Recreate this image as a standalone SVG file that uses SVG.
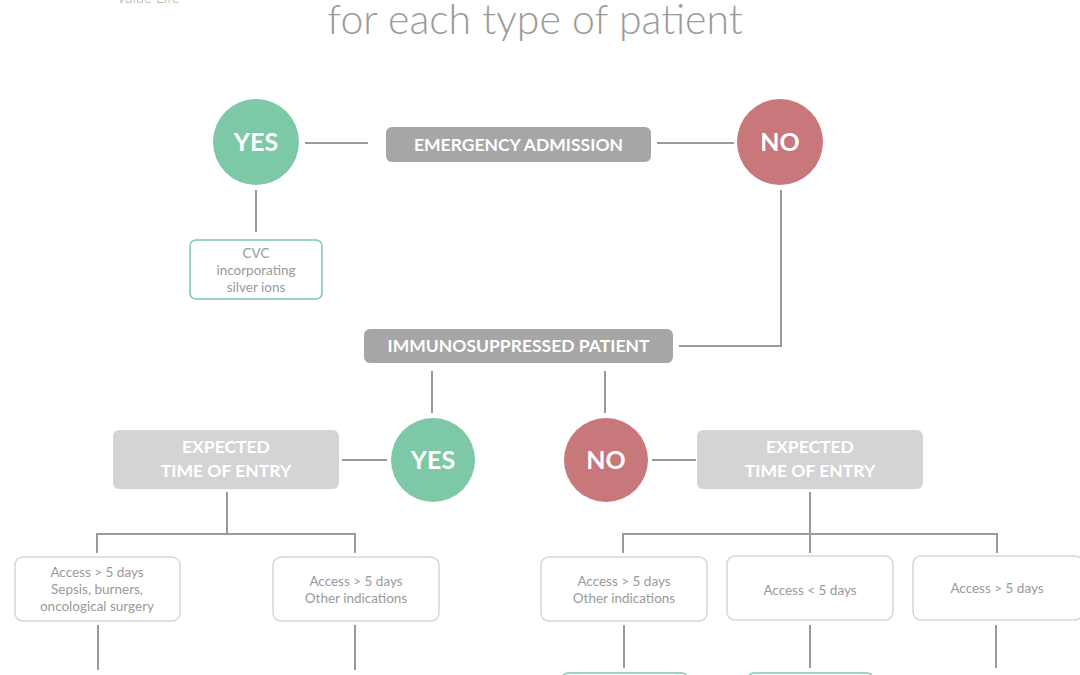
<svg xmlns="http://www.w3.org/2000/svg" width="1080" height="675" viewBox="0 0 1080 675">
<style>
.bg{fill:#ffffff}
.ln{stroke:#9a9a9a;stroke-width:2;fill:none}
.yes{fill:#7dc9a7}
.no{fill:#c8777b}
.ctx{font-family:Lato,"Open Sans",sans-serif;font-weight:700;font-size:25px;fill:#ffffff;text-anchor:middle}
.dark{fill:#a6a6a6}
.light{fill:#d4d4d4}
.btx{font-family:Lato,"Open Sans",sans-serif;font-weight:700;font-size:17.5px;fill:#ffffff;text-anchor:middle}
.leaf{fill:#ffffff;stroke:#d6d6d6;stroke-width:1.5}
.gleaf{fill:#ffffff;stroke:#7dc9a7;stroke-width:1.5}
.ltx{font-family:Lato,"Open Sans",sans-serif;font-weight:400;font-size:13.5px;fill:#9a9a9a;text-anchor:middle}
</style>
<rect class="bg" x="0" y="0" width="1080" height="675"/>
<text x="148" y="3" font-family="Lato,'Open Sans',sans-serif" font-weight="300" font-size="15" fill="#aaaaaa" text-anchor="middle">Value Life</text>
<text x="535" y="34" font-family="Lato,'Open Sans',sans-serif" font-weight="300" font-size="41" fill="#9a9a9a" text-anchor="middle">for each type of patient</text>

<g id="connectors">
<line class="ln" x1="305" y1="143" x2="368" y2="143"/>
<line class="ln" x1="657" y1="143" x2="734" y2="143"/>
<line class="ln" x1="256" y1="190" x2="256" y2="232"/>
<polyline class="ln" points="781,190 781,346 679,346"/>
<line class="ln" x1="432" y1="371" x2="432" y2="413"/>
<line class="ln" x1="605" y1="371" x2="605" y2="413"/>
<line class="ln" x1="342" y1="460" x2="387" y2="460"/>
<line class="ln" x1="652" y1="460" x2="696" y2="460"/>
<line class="ln" x1="227" y1="492" x2="227" y2="534"/>
<polyline class="ln" points="97,553 97,534 355,534 355,553"/>
<line class="ln" x1="810" y1="492" x2="810" y2="534"/>
<polyline class="ln" points="623,553 623,534 997,534 997,553"/>
<line class="ln" x1="810" y1="534" x2="810" y2="553"/>
<line class="ln" x1="98" y1="625" x2="98" y2="670"/>
<line class="ln" x1="355" y1="625" x2="355" y2="670"/>
<line class="ln" x1="624" y1="625" x2="624" y2="668"/>
<line class="ln" x1="810" y1="625" x2="810" y2="668"/>
<line class="ln" x1="996" y1="625" x2="996" y2="668"/>
</g>

<g id="yes1"><circle class="yes" cx="256" cy="142" r="43"/><text class="ctx" x="256" y="151">YES</text></g>
<g id="no1"><circle class="no" cx="780" cy="142" r="43"/><text class="ctx" x="780" y="151">NO</text></g>
<g id="emergency"><rect class="dark" x="386" y="127" width="265" height="35" rx="6"/><text class="btx" x="518.5" y="151">EMERGENCY ADMISSION</text></g>
<g id="cvc"><rect class="gleaf" x="190" y="240" width="132" height="59" rx="6"/>
<text class="ltx" x="256" y="258">CVC</text><text class="ltx" x="256" y="275">incorporating</text><text class="ltx" x="256" y="292">silver ions</text></g>
<g id="immuno"><rect class="dark" x="364" y="329" width="309" height="34" rx="6"/><text class="btx" x="518.5" y="352">IMMUNOSUPPRESSED PATIENT</text></g>
<g id="yes2"><circle class="yes" cx="433" cy="460" r="42"/><text class="ctx" x="433" y="469">YES</text></g>
<g id="no2"><circle class="no" cx="606" cy="460" r="42"/><text class="ctx" x="606" y="469">NO</text></g>
<g id="expected-left"><rect class="light" x="113" y="430" width="226" height="59" rx="6"/>
<text class="btx" x="226" y="453">EXPECTED</text><text class="btx" x="226" y="477">TIME OF ENTRY</text></g>
<g id="expected-right"><rect class="light" x="697" y="430" width="226" height="59" rx="6"/>
<text class="btx" x="810" y="453">EXPECTED</text><text class="btx" x="810" y="477">TIME OF ENTRY</text></g>
<g id="leaf1"><rect class="leaf" x="15" y="557" width="165" height="64" rx="8"/>
<text class="ltx" x="97" y="577">Access &gt; 5 days</text><text class="ltx" x="97" y="594">Sepsis, burners,</text><text class="ltx" x="97" y="611">oncological surgery</text></g>
<g id="leaf2"><rect class="leaf" x="273" y="557" width="166" height="64" rx="8"/>
<text class="ltx" x="356" y="586">Access &gt; 5 days</text><text class="ltx" x="356" y="603">Other indications</text></g>
<g id="leaf3"><rect class="leaf" x="541" y="557" width="166" height="64" rx="8"/>
<text class="ltx" x="624" y="586">Access &gt; 5 days</text><text class="ltx" x="624" y="603">Other indications</text></g>
<g id="leaf4"><rect class="leaf" x="727" y="556" width="166" height="64" rx="8"/>
<text class="ltx" x="810" y="595">Access &lt; 5 days</text></g>
<g id="leaf5"><rect class="leaf" x="913" y="556" width="170" height="64" rx="8"/>
<text class="ltx" x="997" y="593">Access &gt; 5 days</text></g>
<g id="green-a"><rect class="gleaf" x="562" y="673" width="126" height="40" rx="6"/></g>
<g id="green-b"><rect class="gleaf" x="748" y="673" width="125" height="40" rx="6"/></g>
</svg>
